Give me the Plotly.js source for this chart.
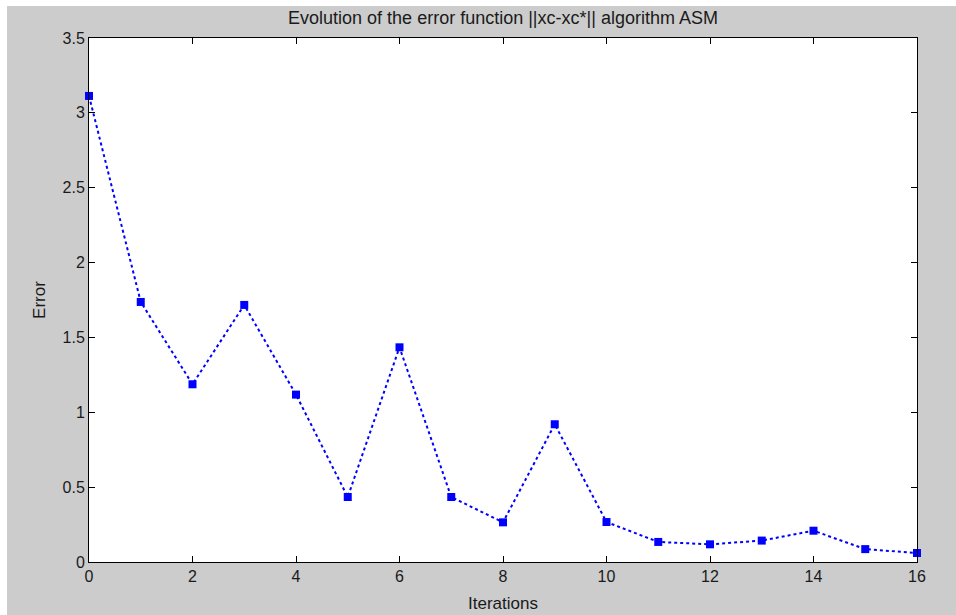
<!DOCTYPE html>
<html>
<head>
<meta charset="utf-8">
<script src="https://cdn.plot.ly/plotly-3.0.1.min.js"></script>
<style>
  html, body { margin: 0; padding: 0; background: #ffffff; }
  #chart { position: absolute; left: 7px; top: 6px; width: 949px; height: 609px; }
</style>
</head>
<body>
<div id="chart"></div>
<script>
const iterations = [0, 1, 2, 3, 4, 5, 6, 7, 8, 9, 10, 11, 12, 13, 14, 15, 16];
const errorValues = [3.113, 1.737, 1.187, 1.717, 1.118, 0.434, 1.434, 0.434, 0.265, 0.920, 0.267, 0.134, 0.118, 0.143, 0.209, 0.086, 0.060];
const xTicks = [0, 2, 4, 6, 8, 10, 12, 14, 16];
const yTicks = [0, 0.5, 1, 1.5, 2, 2.5, 3, 3.5];
const yTickText = ['0', '0.5', '1', '1.5', '2', '2.5', '3', '3.5'];

const trace = {
  x: iterations,
  y: errorValues,
  type: 'scatter',
  mode: 'lines+markers',
  line: { color: '#0000ff', width: 2, dash: 'dot' },
  marker: { color: '#0000ff', symbol: 'square', size: 8 },
  cliponaxis: false,
  hoverinfo: 'x+y'
};

const fontFam = 'Liberation Sans, Arial, sans-serif';

const layout = {
  paper_bgcolor: '#cccccc',
  plot_bgcolor: '#ffffff',
  margin: { l: 82, r: 39, t: 32, b: 53 },
  showlegend: false,
  font: { family: fontFam, color: '#1a1a1a', size: 15 },
  title: {
    text: 'Evolution of the error function ||xc-xc*|| algorithm ASM',
    font: { family: fontFam, size: 18, color: '#1a1a1a' },
    x: 0.5, xref: 'paper', xanchor: 'center', y: 0.981, yref: 'container', yanchor: 'middle'
  },
  xaxis: {
    range: [0, 16],
    tickmode: 'array',
    tickvals: xTicks,
    ticks: 'inside',
    ticklen: 6,
    tickcolor: '#000000',
    showline: true,
    linecolor: '#000000',
    linewidth: 1,
    mirror: 'ticks',
    showgrid: false,
    zeroline: false,
    tickfont: { size: 16, family: fontFam, color: '#1a1a1a' },
    title: { text: 'Iterations', font: { size: 17, family: fontFam, color: '#1a1a1a' }, standoff: 12 },
    automargin: false
  },
  yaxis: {
    range: [0, 3.5],
    tickmode: 'array',
    tickvals: yTicks,
    ticktext: yTickText,
    ticks: 'inside',
    ticklen: 6,
    tickcolor: '#000000',
    showline: true,
    linecolor: '#000000',
    linewidth: 1,
    mirror: 'ticks',
    showgrid: false,
    zeroline: false,
    tickfont: { size: 16, family: fontFam, color: '#1a1a1a' },
    title: { text: 'Error', font: { size: 17, family: fontFam, color: '#1a1a1a' }, standoff: 12 },
    automargin: false
  }
};

Plotly.newPlot('chart', [trace], layout, { displayModeBar: false, staticPlot: true });
</script>
</body>
</html>
